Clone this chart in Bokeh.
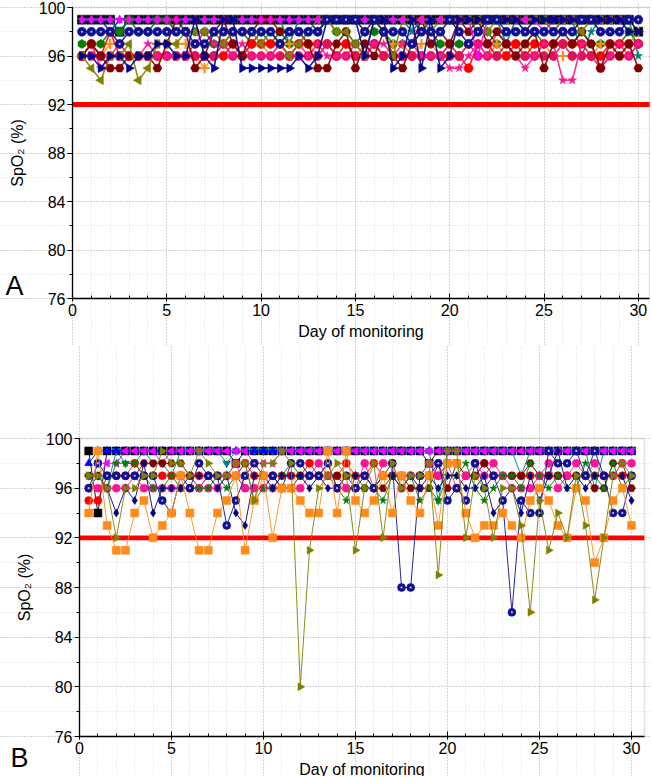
from bokeh.plotting import figure
from bokeh.models import Range1d, Label, FixedTicker, BoxAnnotation
from bokeh.layouts import column
from bokeh.embed import file_html
from bokeh.resources import INLINE
import math

days = [0.5 * (i + 1) for i in range(60)]
x_ticks = [0, 5, 10, 15, 20, 25, 30]
x_minor = list(range(0, 31))
y_ticks = [76, 80, 84, 88, 92, 96, 100]
y_minor = list(range(76, 101, 2))
threshold = 92

# ---------------- Panel A ----------------
A_black = [99,99,99,99,98,99,99,99,99,99, 99,99,99,99,99,99,99,99,99,99, 99,99,99,99,99,99,99,99,99,99,
           99,99,99,99,99,99,99,99,99,99, 99,99,99,99,99,99,99,99,99,99, 99,99,99,99,99,99,99,99,99,98]
A_bluestar = [99,99,99,98,99,99,99,99,99,99, 99,99,99,99,99,99,99,99,99,99, 99,99,99,99,99,98,99,99,99,99,
              99,99,99,99,99,99,98,99,99,99, 99,99,99,99,99,99,99,99,99,99, 99,99,99,99,99,99,99,99,99,99]
A_teal = [99,99,99,99,98,99,99,99,99,99, 98,99,99,99,99,99,99,99,99,99, 99,99,97,99,99,99,99,99,99,99,
          99,99,99,99,99,98,99,99,99,99, 99,99,98,99,99,97,99,99,99,99, 98,99,99,96,98,99,99,99,99,96]
A_green = [97,97,97,98,98,99,98,98,99,99, 98,98,98,98,97,97,98,98,97,98, 97,98,97,97,98,98,99,98,98,97,
           98,98,98,97,97,97,98,98,97,97, 97,97,98,98,97,97,97,97,98,97, 97,97,97,98,97,97,97,97,98,97]
A_orange = [96,97,96,97,97,96,96,96,97,97, 97,97,96,95,96,97,97,96,97,97, 96,97,97,97,97,96,97,97,97,96,
            97,97,96,97,97,96,97,97,96,97, 96,97,97,96,97,96,97,97,96,97, 96,96,96,96,96,97,97,96,97,98]
A_red = [96,97,96,98,96,96,96,96,96,96, 96,96,96,96,96,96,97,96,97,97, 97,97,96,97,97,97,97,96,97,96,
         96,97,96,96,96,96,96,96,96,96, 96,95,97,97,96,96,97,96,97,97, 97,97,97,97,96,96,97,97,97,97]
A_pinkcirc = [96,96,96,96,96,96,96,96,96,96, 96,96,96,96,96,97,96,96,96,96, 96,96,96,96,96,96,97,96,96,96,
              96,97,96,96,96,96,96,96,96,97, 96,97,96,96,96,97,96,96,96,96, 96,97,96,96,96,95,96,96,96,97]
A_pinkstar = [96,97,95,96,97,96,96,97,96,96, 96,96,97,98,97,97,96,97,96,96, 96,97,96,97,96,97,96,96,96,97,
              96,97,97,96,97,97,96,96,96,95, 95,96,97,96,98,97,96,95,96,97, 97,94,94,97,97,95,96,97,96,97]
A_maroon = [96,97,96,95,95,96,96,96,95,97, 99,98,95,96,98,99,97,96,98,99, 99,98,98,98,97,95,95,97,98,95,
            97,96,98,96,95,97,99,97,98,97, 99,98,99,97,98,97,96,97,98,95, 97,98,97,98,97,95,97,96,97,95]
A_olive = [96,95,94,96,96,97,94,95,97,97, 97,98,98,98,98,97,98,98,98,97, 98,97,96,97,98,99,99,98,98,97,
           96,99,98,96,99,99,99,98,99,99, 99,99,99,98,99,99,99,99,99,99, 98,99,99,98,99,99,99,99,99,99]
A_magenta = [99,99,99,99,99,99,99,99,99,99, 99,99,99,99,99,99,99,99,99,99, 99,99,99,99,99,99,99,99,99,99,
             99,99,99,99,99,99,99,99,99,99, 99,99,96,99,99,99,99,99,99,98, 99,99,99,99,99,99,99,99,99,99]
A_navytri = [96,96,95,96,96,95,96,96,97,97, 96,96,99,96,95,99,99,95,95,95, 95,95,95,96,95,96,99,99,99,99,
             96,99,99,95,96,99,95,99,95,96, 99,99,99,99,99,99,99,98,99,99, 99,99,99,99,99,99,99,99,98,98]
A_sphere = [98,98,98,98,97,98,98,98,98,98, 98,98,97,97,98,98,98,98,98,98, 98,97,98,98,98,98,99,99,99,99,
            98,99,98,98,98,97,98,98,98,99, 98,97,98,99,99,98,98,98,98,98, 98,98,98,99,99,98,98,98,99,99]

# ---------------- Panel B ----------------
B_black = [99,94,99,99,99,99,99,99,99,99, 99,99,99,99,99,99,98,99,99,99, 99,99,99,99,99,99,99,99,99,99,
           99,99,99,99,99,99,99,98,99,99, 99,99,99,99,99,99,99,99,99,99, 99,99,99,99,99,99,99,99,99,99]
B_teal = [97,97,96,99,98,98,99,98,98,97, 99,99,99,99,99,98,99,99,99,99, 99,99,99,99,99,99,99,99,99,99,
          99,99,99,99,99,99,99,99,95,99, 99,99,99,99,99,99,99,97,99,99, 99,99,99,99,99,96,99,99,99,99]
B_blue = [98,99,99,99,99,99,99,99,99,99, 99,99,99,99,99,99,99,99,99,99, 99,99,99,99,99,99,99,99,99,99,
          99,99,99,99,99,99,99,99,99,99, 99,99,99,99,99,99,99,99,99,99, 99,99,99,99,99,99,99,99,99,99]
B_magenta = [97,97,98,98,99,99,99,99,98,99, 99,99,99,99,99,99,99,99,98,98, 98,99,99,99,99,99,99,99,99,99,
             99,99,99,99,99,99,99,99,99,99, 99,99,99,99,99,99,99,99,99,99, 99,99,99,99,99,99,99,99,99,99]
B_red = [95,95,97,97,97,98,97,97,97,97, 97,97,97,97,97,97,97,98,97,97, 97,97,97,97,98,97,97,97,98,97,
         97,98,97,97,97,97,97,97,97,98, 98,97,97,98,97,97,97,97,97,97, 97,97,97,97,97,97,97,97,97,97]
B_maroon = [97,97,97,97,97,97,98,98,98,98, 98,97,96,97,97,97,97,96,96,96, 97,96,96,97,97,97,97,97,96,96,
            96,96,96,97,97,96,96,96,98,96, 98,97,97,98,97,97,97,97,98,97, 97,97,97,97,97,96,96,98,98,96]
B_pink = [96,96,96,96,96,97,96,96,96,96, 96,96,96,96,96,97,98,96,96,96, 96,96,96,96,97,98,97,96,96,96,
          98,96,98,98,96,97,97,98,97,98, 96,97,98,97,98,97,96,96,96,97, 98,96,97,98,97,98,97,97,98,98]
B_green = [97,97,96,98,98,98,97,96,96,97, 96,96,96,96,97,96,97,98,95,96, 96,97,98,97,97,97,98,96,95,97,
           96,96,95,97,96,97,95,96,95,97, 97,98,96,95,96,97,97,96,98,97, 96,97,96,96,98,97,96,98,96,97]
B_diamond = [96,97,96,94,96,95,98,94,96,96, 96,97,97,97,96,97,94,93,97,97, 96,97,97,97,96,97,96,96,97,97,
             97,96,97,97,96,97,96,97,96,97, 97,96,96,97,94,95,96,94,97,95, 97,99,96,97,96,97,97,97,97,95]
B_sphere = [96,98,97,97,97,97,97,97,95,94, 97,96,98,97,97,93,95,97,98,97, 97,96,98,98,97,97,98,96,97,96,
            97,96,97,98,88,88,97,97,98,95, 96,95,98,96,97,95,86,95,94,94, 99,98,98,99,97,99,97,94,94,97]
B_orange = [94,99,93,91,91,94,95,92,93,94, 97,94,91,91,94,95,97,91,95,97, 92,96,96,95,94,94,99,94,99,95,
            94,95,97,94,97,95,94,97,93,98, 98,94,92,93,93,94,93,92,95,96, 95,93,92,96,95,90,92,95,96,93]
B_olive = [97,97,96,92,96,96,97,97,99,98, 98,97,99,98,97,97,98,98,95,98, 98,99,98,80,91,96,97,98,97,91,
           96,98,92,98,96,97,97,98,89,99, 99,92,97,96,92,96,96,93,86,95, 91,94,92,97,93,87,92,97,98,97]

R = math.pi / 2
series_A = [
    (A_black, "black", "square", 0, False),
    (A_bluestar, "#0000ff", "star", 0, False),
    (A_teal, "#008080", "star", 0, False),
    (A_green, "#008000", "hex", R, False),
    (A_orange, "#ff8c1a", "cross", 0, False),
    (A_red, "#ff0000", "circle", 0, False),
    (A_pinkcirc, "#e0105a", "circle", 0, False),
    (A_pinkstar, "#ff1493", "star", 0, False),
    (A_maroon, "#800000", "hex", 0, False),
    (A_olive, "#808000", "triangle", R, False),
    (A_magenta, "#ff00ff", "diamond", 0, False),
    (A_navytri, "#000090", "triangle", -R, False),
    (A_sphere, "#101090", "circle", 0, True),
]
series_B = [
    (B_black, "black", "square", 0, False),
    (B_teal, "#008080", "inverted_triangle", 0, False),
    (B_blue, "#0000ff", "triangle", 0, False),
    (B_magenta, "#ff00ff", "triangle", R, False),
    (B_red, "#ff0000", "circle", 0, False),
    (B_maroon, "#800000", "hex", 0, False),
    (B_pink, "#ff1493", "circle", 0, False),
    (B_green, "#008000", "star", 0, False),
    (B_diamond, "#000080", "diamond", 0, False),
    (B_sphere, "#101090", "circle", 0, True),
    (B_orange, "#ff8c1a", "square", 0, False),
    (B_olive, "#808000", "triangle", -R, False),
]

FONT = "Liberation Sans"
W = 650


def make_panel(series, height, px0, px_per_day, py100, py76, xright, lw, msize, letter, lx, ly):
    # frame covers the whole canvas; axes are pinned at x=0 / y=76
    x_start = -px0 / px_per_day
    x_end = (W - px0) / px_per_day
    py_per = (py76 - py100) / 24.0
    y_end = 100 + py100 / py_per
    y_start = 76 - (height - py76) / py_per
    p = figure(width=W, height=height, x_range=Range1d(x_start, x_end), y_range=Range1d(y_start, y_end),
               output_backend="svg", toolbar_location=None,
               min_border_left=0, min_border_right=0, min_border_top=0, min_border_bottom=0)
    p.background_fill_color = "white"
    p.border_fill_color = "white"
    p.outline_line_color = None
    p.xaxis.ticker = FixedTicker(ticks=x_ticks, minor_ticks=x_minor)
    p.yaxis.ticker = FixedTicker(ticks=y_ticks, minor_ticks=y_minor)
    p.xaxis.fixed_location = 76
    p.yaxis.fixed_location = 0
    p.xaxis.bounds = (0, xright)
    p.yaxis.bounds = (76, 100)
    for ax in (p.xaxis, p.yaxis):
        ax.axis_line_color = "black"
        ax.axis_line_width = 1.3
        ax.major_tick_line_color = "black"
        ax.minor_tick_line_color = "black"
        ax.major_label_text_font = FONT
        ax.major_label_text_font_size = "16px"
        ax.major_label_text_color = "black"
        ax.axis_label_text_font = FONT
        ax.axis_label_text_font_size = "16px"
        ax.axis_label_text_font_style = "normal"
        ax.axis_label_text_color = "black"
    p.xaxis.major_tick_in = 5
    p.xaxis.major_tick_out = 3
    p.xaxis.minor_tick_in = 3
    p.xaxis.minor_tick_out = 0
    p.yaxis.major_tick_in = 0
    p.yaxis.major_tick_out = 5
    p.yaxis.minor_tick_in = 0
    p.yaxis.minor_tick_out = 3
    p.xaxis.axis_label = "Day of monitoring"
    p.yaxis.axis_label = "SpO\u2082 (%)"
    p.xaxis.axis_label_standoff = 4
    p.yaxis.axis_label_standoff = 10
    p.xaxis.major_label_standoff = 2
    p.yaxis.major_label_standoff = 2
    p.xgrid.bounds = (76, 100)
    p.ygrid.bounds = (0, xright)
    for g in (p.xgrid, p.ygrid):
        g.grid_line_color = "#b8b8b8"
        g.grid_line_dash = "1 2"
        g.grid_line_width = 1
        g.minor_grid_line_color = "#dcdcdc"
        g.minor_grid_line_dash = "1 2"
        g.minor_grid_line_width = 1

    # plot-area border (grey, top/right visible) and the 92 % threshold band
    p.add_layout(BoxAnnotation(left=0, right=xright, bottom=76, top=100, fill_color=None,
                               line_color="#a0a0a0", line_width=1.5, level="underlay"))
    half = 2.4 / py_per
    p.add_layout(BoxAnnotation(left=0, right=xright, bottom=threshold - half, top=threshold + half,
                               fill_color="#ff0000", fill_alpha=1.0, line_color=None, level="underlay"))

    for vals, color, marker, ang, sphere in series:
        p.line(days, vals, line_color=color, line_width=lw, line_alpha=0.9)
        if marker == "cross":
            p.scatter(days, vals, marker="cross", size=msize + 1, line_color=color, line_width=2.2)
        else:
            p.scatter(days, vals, marker=marker, size=msize, angle=ang,
                      fill_color=color, line_color=color, line_width=0.5)
        if sphere:
            p.scatter(days, vals, marker="circle", size=2.2, fill_color="#c0c0ff",
                      line_color=None)

    p.add_layout(Label(x=lx, y=ly, x_units="screen", y_units="screen", text=letter,
                       text_font=FONT, text_font_size="27px", text_color="black",
                       text_baseline="middle", text_align="left"))
    return p


pA = make_panel(series_A, 345, 72, 18.86, 7, 298, 30.6, 1.6, 9, "A", 5, 60)
pB = make_panel(series_B, 431, 79, 18.4, 93, 391, 30.7, 1.0, 8, "B", 10, 19)

layout = column(pA, pB)
open("out.html", "w").write(file_html(layout, INLINE))
